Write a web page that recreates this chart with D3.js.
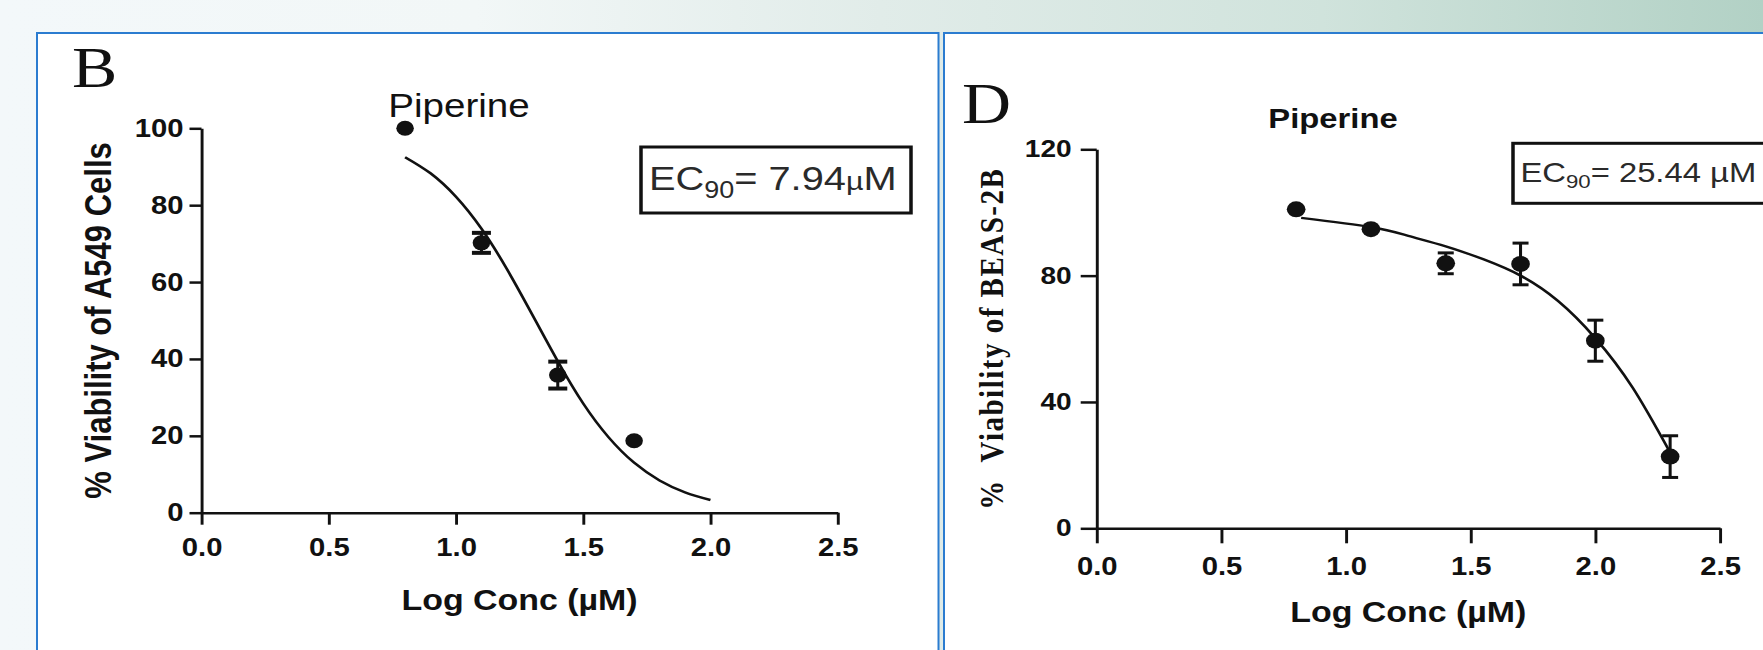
<!DOCTYPE html>
<html>
<head>
<meta charset="utf-8">
<script src="https://cdn.jsdelivr.net/npm/d3@7"></script>
<style>
  body { margin: 0; background: #fff; }
  svg { display: block; }
</style>
</head>
<body>
<div id="chart"></div>
<script>
// ---- data ----
var xTicks = [0, 0.5, 1.0, 1.5, 2.0, 2.5];

// panel B : A549 cells
var concB = [0.8, 1.1, 1.4, 1.7];
var viabB = [100, 70.2, 35.8, 18.7];
var errB = [0, 2.6, 3.5, 0];
var fitConcB = [0.8, 0.9, 1.0, 1.1, 1.2, 1.3, 1.4, 1.5, 1.6, 1.7, 1.8, 1.9, 2.0];
var fitViabB = [92.5, 88.3, 82.2, 73.9, 63.4, 51.5, 39.4, 28.4, 19.6, 13.0, 8.4, 5.3, 3.3];
var yTicksB = [0, 20, 40, 60, 80, 100];

// panel D : BEAS-2B cells
var concD = [0.8, 1.1, 1.4, 1.7, 2.0, 2.3];
var viabD = [101, 94.7, 83.9, 83.7, 59.4, 22.7];
var errD = [0, 0, 3.3, 6.6, 6.5, 6.6];
var fitConcD = [0.82, 1.1, 1.25, 1.4, 1.55, 1.7, 1.85, 2.0, 2.15, 2.3];
var fitViabD = [98.3, 95.4, 92.6, 89.3, 85.2, 80.0, 72.0, 60.2, 44.5, 24.0];
var yTicksD = [0, 40, 80, 120];

// the source figure is stretched sideways, so every panel is drawn in a scaled group
var SX = 1.17;
function px(v) { return v / SX; }

var SANS = "'Liberation Sans', Arial, Helvetica, sans-serif";
var SERIF = "'Liberation Serif', 'Times New Roman', serif";
var INK = "#111";

var svg = d3.select("#chart").append("svg")
  .attr("width", 1763)
  .attr("height", 650);

// background band
var grad = svg.append("defs").append("linearGradient")
  .attr("id", "bg").attr("x1", 0).attr("x2", 1).attr("y1", 0).attr("y2", 0);
grad.append("stop").attr("offset", "0").attr("stop-color", "#f3f8fa");
grad.append("stop").attr("offset", "0.27").attr("stop-color", "#f2f7f7");
grad.append("stop").attr("offset", "0.5").attr("stop-color", "#e1ece9");
grad.append("stop").attr("offset", "0.75").attr("stop-color", "#d0e3dc");
grad.append("stop").attr("offset", "1").attr("stop-color", "#b2d1c5");
svg.append("rect").attr("width", 1763).attr("height", 650).attr("fill", "url(#bg)");

// the two white panels with blue frames
svg.append("rect")
  .attr("x", 37).attr("y", 33).attr("width", 901.5).attr("height", 660)
  .attr("fill", "#fff").attr("stroke", "#2b7cd0").attr("stroke-width", 2);
svg.append("rect")
  .attr("x", 944).attr("y", 33).attr("width", 860).attr("height", 660)
  .attr("fill", "#fff").attr("stroke", "#2b7cd0").attr("stroke-width", 2);

function drawPanel(p) {
  var g = svg.append("g").attr("transform", "scale(" + SX + ",1)");

  var x = d3.scaleLinear().domain([0, 2.5]).range([px(p.xLeft), px(p.xRight)]);
  var y = d3.scaleLinear().domain([0, p.yMax]).range([p.yZero, p.yTop]);

  // x axis
  var xa = g.append("g")
    .attr("transform", "translate(0," + y(0) + ")")
    .call(d3.axisBottom(x).tickValues(xTicks).tickFormat(d3.format(".1f"))
      .tickSize(p.xTick).tickSizeOuter(0).tickPadding(p.xPad));

  // y axis
  var ya = g.append("g")
    .attr("transform", "translate(" + x(0) + ",0)")
    .call(d3.axisLeft(y).tickValues(p.yTicks)
      .tickSize(px(p.yTick)).tickSizeOuter(0).tickPadding(px(p.yPad)));

  [xa, ya].forEach(function (a) {
    a.attr("font-family", null).attr("font-size", null);
    a.selectAll("path, line").attr("stroke", INK).attr("stroke-width", 2.5);
    a.selectAll("text")
      .attr("fill", INK)
      .style("font-family", SANS)
      .style("font-weight", "bold");
  });
  xa.selectAll("text").style("font-size", p.xFont + "px");
  ya.selectAll("text").style("font-size", p.yFont + "px");

  // x axis title
  g.append("text")
    .attr("x", (x(0) + x(2.5)) / 2)
    .attr("y", p.xTitleY)
    .attr("text-anchor", "middle")
    .style("font-family", SANS).style("font-weight", "bold")
    .style("font-size", "29px").attr("fill", INK)
    .text("Log Conc (\u00b5M)");

  // y axis title
  g.append("text")
    .attr("transform", "translate(" + px(p.yTitleX) + "," + (p.yZero + p.yTop) / 2 + ") rotate(-90)")
    .attr("text-anchor", "middle")
    .style("font-family", p.yTitleFamily).style("font-weight", "bold")
    .style("font-size", p.yTitleSize + "px")
    .style("letter-spacing", p.yTitleSpacing + "px")
    .style("white-space", "pre")
    .attr("fill", INK)
    .text(p.yTitle);

  // panel letter
  g.append("text")
    .attr("x", px(p.letterX)).attr("y", p.letterY)
    .style("font-family", SERIF).style("font-size", "58px")
    .attr("fill", INK)
    .text(p.letter);

  // chart title
  g.append("text")
    .attr("x", px(p.titleX)).attr("y", p.titleY)
    .attr("text-anchor", "middle")
    .style("font-family", SANS).style("font-weight", p.titleWeight)
    .style("font-size", p.titleSize + "px")
    .attr("fill", INK)
    .text("Piperine");

  // EC90 box
  g.append("rect")
    .attr("x", px(p.box[0])).attr("y", p.box[1])
    .attr("width", px(p.box[2] - p.box[0])).attr("height", p.box[3] - p.box[1])
    .attr("fill", "#fff").attr("stroke", INK).attr("stroke-width", 3);
  var ec = g.append("text")
    .attr("x", px(p.ecX)).attr("y", p.ecY)
    .style("font-family", SANS).style("font-size", p.ecSize + "px")
    .attr("fill", "#2a2a2a");
  ec.append("tspan").text("EC");
  ec.append("tspan").attr("dy", p.ecSize * 0.24)
    .style("font-size", Math.round(p.ecSize * 0.68) + "px").text("90");
  ec.append("tspan").attr("dy", -p.ecSize * 0.24).text("= " + p.ecValue);
  ec.append("tspan").style("font-size", p.muSize + "px").text("\u00b5");
  ec.append("tspan").text("M");

  // fitted curve
  var fit = p.fitConc.map(function (c, i) { return [c, p.fitViab[i]]; });
  g.append("path")
    .datum(fit)
    .attr("fill", "none")
    .attr("stroke", INK)
    .attr("stroke-width", 2.4)
    .attr("d", d3.line()
      .x(function (d) { return x(d[0]); })
      .y(function (d) { return y(d[1]); })
      .curve(d3.curveNatural));

  // error bars
  var idx = d3.range(p.conc.length).filter(function (i) { return p.err[i] > 0; });
  var cap = px(p.capHalf);
  var eb = g.selectAll(null).data(idx).enter().append("g")
    .attr("stroke", INK).attr("stroke-width", 2.6);
  eb.append("line")
    .attr("x1", function (i) { return x(p.conc[i]); })
    .attr("x2", function (i) { return x(p.conc[i]); })
    .attr("y1", function (i) { return y(p.viab[i] - p.err[i]); })
    .attr("y2", function (i) { return y(p.viab[i] + p.err[i]); });
  [-1, 1].forEach(function (s) {
    eb.append("line")
      .attr("x1", function (i) { return x(p.conc[i]) - cap; })
      .attr("x2", function (i) { return x(p.conc[i]) + cap; })
      .attr("y1", function (i) { return y(p.viab[i] + s * p.err[i]); })
      .attr("y2", function (i) { return y(p.viab[i] + s * p.err[i]); })
      .attr("stroke-width", p.capW);
  });

  // points
  g.selectAll(null).data(d3.range(p.conc.length)).enter().append("circle")
    .attr("cx", function (i) { return x(p.conc[i]); })
    .attr("cy", function (i) { return y(p.viab[i]); })
    .attr("r", p.dotR)
    .attr("fill", INK);
}

drawPanel({
  conc: concB, viab: viabB, err: errB, fitConc: fitConcB, fitViab: fitViabB,
  yTicks: yTicksB, yMax: 100,
  xLeft: 201.5, xRight: 837.7, yZero: 512.7, yTop: 128.3,
  xTick: 12, xPad: 14, xFont: 25,
  yTick: 12, yPad: 6, yFont: 25,
  xTitleY: 610,
  yTitle: "% Viability of A549 Cells", yTitleFamily: SANS, yTitleSize: 31, yTitleSpacing: 0, yTitleX: 111,
  letter: "B", letterX: 72, letterY: 87,
  titleX: 459, titleY: 117, titleSize: 33, titleWeight: "normal",
  box: [641, 147, 911, 213], ecX: 649, ecY: 190, ecSize: 34, ecValue: "7.94", muSize: 26,
  capHalf: 9.5, capW: 4, dotR: 7.5
});

drawPanel({
  conc: concD, viab: viabD, err: errD, fitConc: fitConcD, fitViab: fitViabD,
  yTicks: yTicksD, yMax: 120,
  xLeft: 1096.7, xRight: 1720, yZero: 528.3, yTop: 149.3,
  xTick: 15, xPad: 14, xFont: 25,
  yTick: 16, yPad: 9, yFont: 24,
  xTitleY: 622,
  yTitle: "%  Viability of BEAS-2B", yTitleFamily: SERIF, yTitleSize: 29, yTitleSpacing: 1.5, yTitleX: 1003,
  letter: "D", letterX: 962, letterY: 123,
  titleX: 1333, titleY: 128, titleSize: 28, titleWeight: "bold",
  box: [1513, 143.3, 1820, 203.3], ecX: 1520.5, ecY: 181.7, ecSize: 28, ecValue: "25.44 ", muSize: 28,
  capHalf: 8, capW: 3, dotR: 8
});
</script>
</body>
</html>
